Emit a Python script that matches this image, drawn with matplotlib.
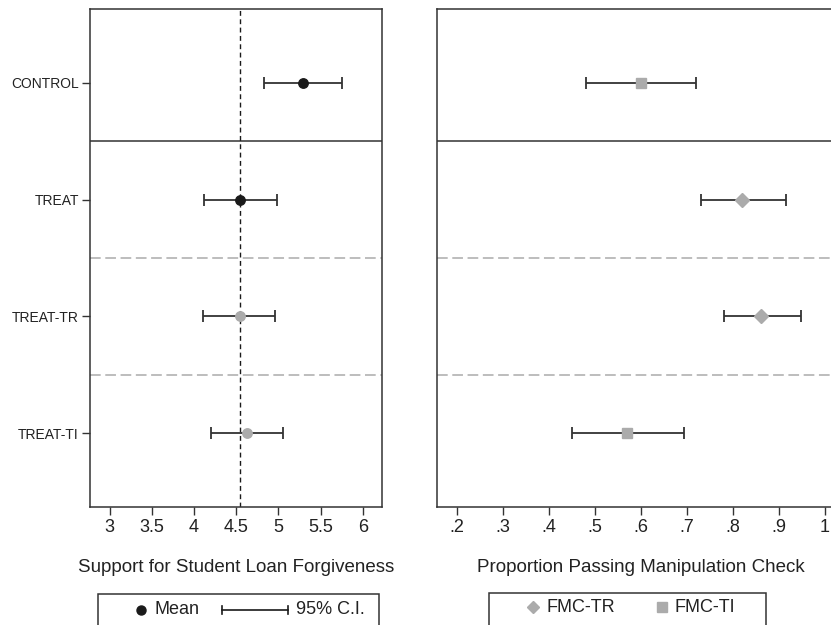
import matplotlib
matplotlib.use('Agg')
import matplotlib.pyplot as plt
from matplotlib.lines import Line2D
from matplotlib.patches import Rectangle

plt.rcParams['font.family'] = ['Liberation Sans', 'DejaVu Sans']

# groups, top to bottom
groups = ['CONTROL', 'TREAT', 'TREAT-TR', 'TREAT-TI']
ypos = [4, 3, 2, 1]

# left panel: support for student loan forgiveness
support_mean = [5.29, 4.55, 4.54, 4.63]
support_lo = [4.83, 4.12, 4.11, 4.20]
support_hi = [5.75, 4.98, 4.96, 5.06]
support_ref = 4.55
support_ticks = [3, 3.5, 4, 4.5, 5, 5.5, 6]

# right panel: proportion passing manipulation check
check_mean = [0.60, 0.82, 0.86, 0.57]
check_lo = [0.48, 0.73, 0.78, 0.45]
check_hi = [0.72, 0.915, 0.947, 0.693]
check_marker = ['s', 'D', 'D', 's']
check_ticks = [0.2, 0.3, 0.4, 0.5, 0.6, 0.7, 0.8, 0.9, 1.0]
check_ticklabels = ['.2', '.3', '.4', '.5', '.6', '.7', '.8', '.9', '1']

dark = '#1a1a1a'
grey = '#ababab'
spine_c = '#333333'
txt_c = '#222222'

W, H = 831, 625
fig = plt.figure(figsize=(W / 100, H / 100), dpi=100)


def fx(px):
    return px / W


def fy(py):
    return 1 - py / H


top, bot = 9, 507
ax1 = fig.add_axes([fx(90), fy(bot), (382 - 90) / W, (bot - top) / H])
ax2 = fig.add_axes([fx(437), fy(bot), (845 - 437) / W, (bot - top) / H])

for ax in (ax1, ax2):
    ax.set_ylim(0.37, 4.63)
    for s in ax.spines.values():
        s.set_color(spine_c)
        s.set_linewidth(1.1)
    ax.axhline(3.5, color=spine_c, lw=1.1, zorder=1)
    for yy in (2.5, 1.5):
        ax.axhline(yy, color=grey, lw=1.1, ls=(0, (7, 3)), zorder=1)
    ax.tick_params(axis='x', length=6, width=1, color=spine_c, labelsize=13,
                   pad=3, labelcolor=txt_c)

# left panel
ax1.set_xlim(2.766, 6.229)
ax1.axvline(support_ref, color=dark, lw=1, ls=(0, (3.5, 2.5)), zorder=2)
for i in range(len(groups)):
    c = dark if i < 2 else grey
    ax1.errorbar(support_mean[i], ypos[i],
                 xerr=[[support_mean[i] - support_lo[i]], [support_hi[i] - support_mean[i]]],
                 fmt='none', ecolor=spine_c, elinewidth=1.3, capsize=4, capthick=1.3, zorder=3)
    ax1.plot(support_mean[i], ypos[i], 'o', color=c, ms=6.8, mec=c, zorder=4)
ax1.set_xticks(support_ticks)
ax1.set_xticklabels(['3', '3.5', '4', '4.5', '5', '5.5', '6'])
ax1.set_yticks(ypos)
ax1.set_yticklabels(groups)
ax1.tick_params(axis='y', length=6, width=1, color=spine_c, labelsize=10, pad=2,
                labelcolor=txt_c)
ax1.set_xlabel('Support for Student Loan Forgiveness', fontsize=13.5, labelpad=16,
               color=txt_c)

# right panel
ax2.set_xlim(0.1564, 1.0436)
for i in range(len(groups)):
    ax2.errorbar(check_mean[i], ypos[i],
                 xerr=[[check_mean[i] - check_lo[i]], [check_hi[i] - check_mean[i]]],
                 fmt='none', ecolor=spine_c, elinewidth=1.3, capsize=4, capthick=1.3, zorder=3)
    ms = 7.0 if check_marker[i] == 'D' else 6.5
    ax2.plot(check_mean[i], ypos[i], check_marker[i], color=grey, mec=grey, ms=ms, zorder=4)
ax2.set_xticks(check_ticks)
ax2.set_xticklabels(check_ticklabels)
ax2.set_yticks([])
ax2.set_xlabel('Proportion Passing Manipulation Check', fontsize=13.5, labelpad=16,
               color=txt_c)

# legend boxes, drawn by hand in figure pixels
tf = fig.transFigure
fig.patches.append(Rectangle((fx(97.7), fy(640)), (379 - 97.7) / W, (640 - 594) / H,
                             transform=tf, fill=False, ec=spine_c, lw=1.1))
ly = fy(610)
fig.lines.append(Line2D([fx(141)], [ly], marker='o', ls='none', color=dark, ms=6.5, transform=tf))
fig.text(fx(155), ly, 'Mean', fontsize=13, va='center', ha='left', color=txt_c)
fig.lines.append(Line2D([fx(222), fx(288)], [ly, ly], color=dark, lw=1.2, transform=tf))
for xc in (222, 288):
    fig.lines.append(Line2D([fx(xc), fx(xc)], [ly - 4 / H, ly + 4 / H], color=dark, lw=1.2,
                            transform=tf))
fig.text(fx(296), ly, '95% C.I.', fontsize=13, va='center', ha='left', color=txt_c)

fig.patches.append(Rectangle((fx(489), fy(640)), (766 - 489) / W, (640 - 593) / H,
                             transform=tf, fill=False, ec=spine_c, lw=1.1))
ry = fy(607)
fig.lines.append(Line2D([fx(532.7)], [ry], marker='D', ls='none', color=grey, ms=6.5, transform=tf))
fig.text(fx(546), ry, 'FMC-TR', fontsize=13, va='center', ha='left', color=txt_c)
fig.lines.append(Line2D([fx(661.7)], [ry], marker='s', ls='none', color=grey, ms=7, transform=tf))
fig.text(fx(675), ry, 'FMC-TI', fontsize=13, va='center', ha='left', color=txt_c)

fig.savefig('out.png', dpi=100, facecolor='white')
